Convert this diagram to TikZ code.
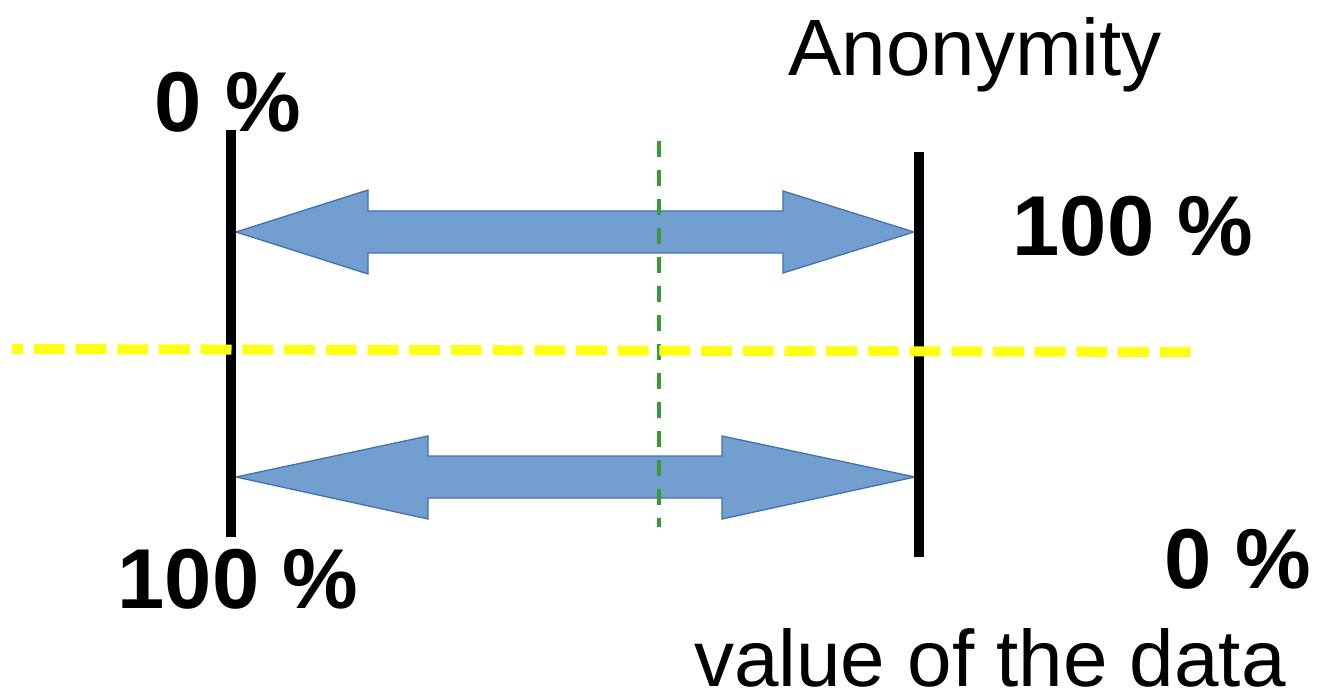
\documentclass[tikz,border=0pt]{standalone}
\usepackage{fontspec}
\setmainfont{Liberation Sans}
\definecolor{arrowfill}{RGB}{114,159,207}
\definecolor{arrowline}{RGB}{65,113,178}
\definecolor{guidegreen}{RGB}{56,155,56}
\definecolor{guideyellow}{RGB}{255,255,20}
\begin{document}
\begin{tikzpicture}[x=1pt,y=-1pt,
  scalebar/.style={line width=10pt,black},
  dblarrow/.style={fill=arrowfill,draw=arrowline,line width=1.3pt,line join=miter},
  pct/.style={font=\fontsize{85}{100}\selectfont\bfseries,inner sep=0pt,anchor=base},
  caption/.style={font=\fontsize{80}{96}\selectfont,inner sep=0pt,anchor=base,text depth=0pt}]
\useasboundingbox (0,0) rectangle (1326,695);

% end points of the two scales
\coordinate (Ltop) at (231,130);
\coordinate (Lbot) at (231,537);
\coordinate (Rtop) at (919,152);
\coordinate (Rbot) at (919,557);

% upper double arrow
\draw[dblarrow] (236,232) -- (368,190) -- (368,211) -- (783,211) -- (783,191)
  -- (914,232) -- (783,273) -- (783,253) -- (368,253) -- (368,274) -- cycle;
% lower double arrow
\draw[dblarrow] (236,477) -- (428,436) -- (428,456) -- (722,456) -- (722,436)
  -- (915,477) -- (722,519) -- (722,498) -- (428,498) -- (428,519) -- cycle;

% the two scales
\draw[scalebar] (Ltop) -- (Lbot);
\draw[scalebar] (Rtop) -- (Rbot);

% vertical green guide
\coordinate (Gtop) at (659,141);
\coordinate (Gbot) at (659,527);
\draw[guidegreen,line width=4pt,dash pattern=on 16pt off 13pt] (Gtop) -- (Gbot);

% horizontal yellow guide
\coordinate (Yl) at (12,349);
\coordinate (Yr) at (1191,352);
\draw[guideyellow,line width=10pt,dash pattern=on 30.8pt off 10.9pt,dash phase=19.8pt] (Yl) -- (Yr);

% labels
\node[pct] (l0) at (228,132) {0 \%};
\node[pct] (l100) at (238,608) {100 \%};
\node[pct] (r100) at (1133,256) {100 \%};
\node[pct] (r0) at (1238,588) {0 \%};
\node[caption] (anon) at (975,76) {Anonymity};
\node[caption] (value) at (990,686) {value of the data};
\end{tikzpicture}
\end{document}
